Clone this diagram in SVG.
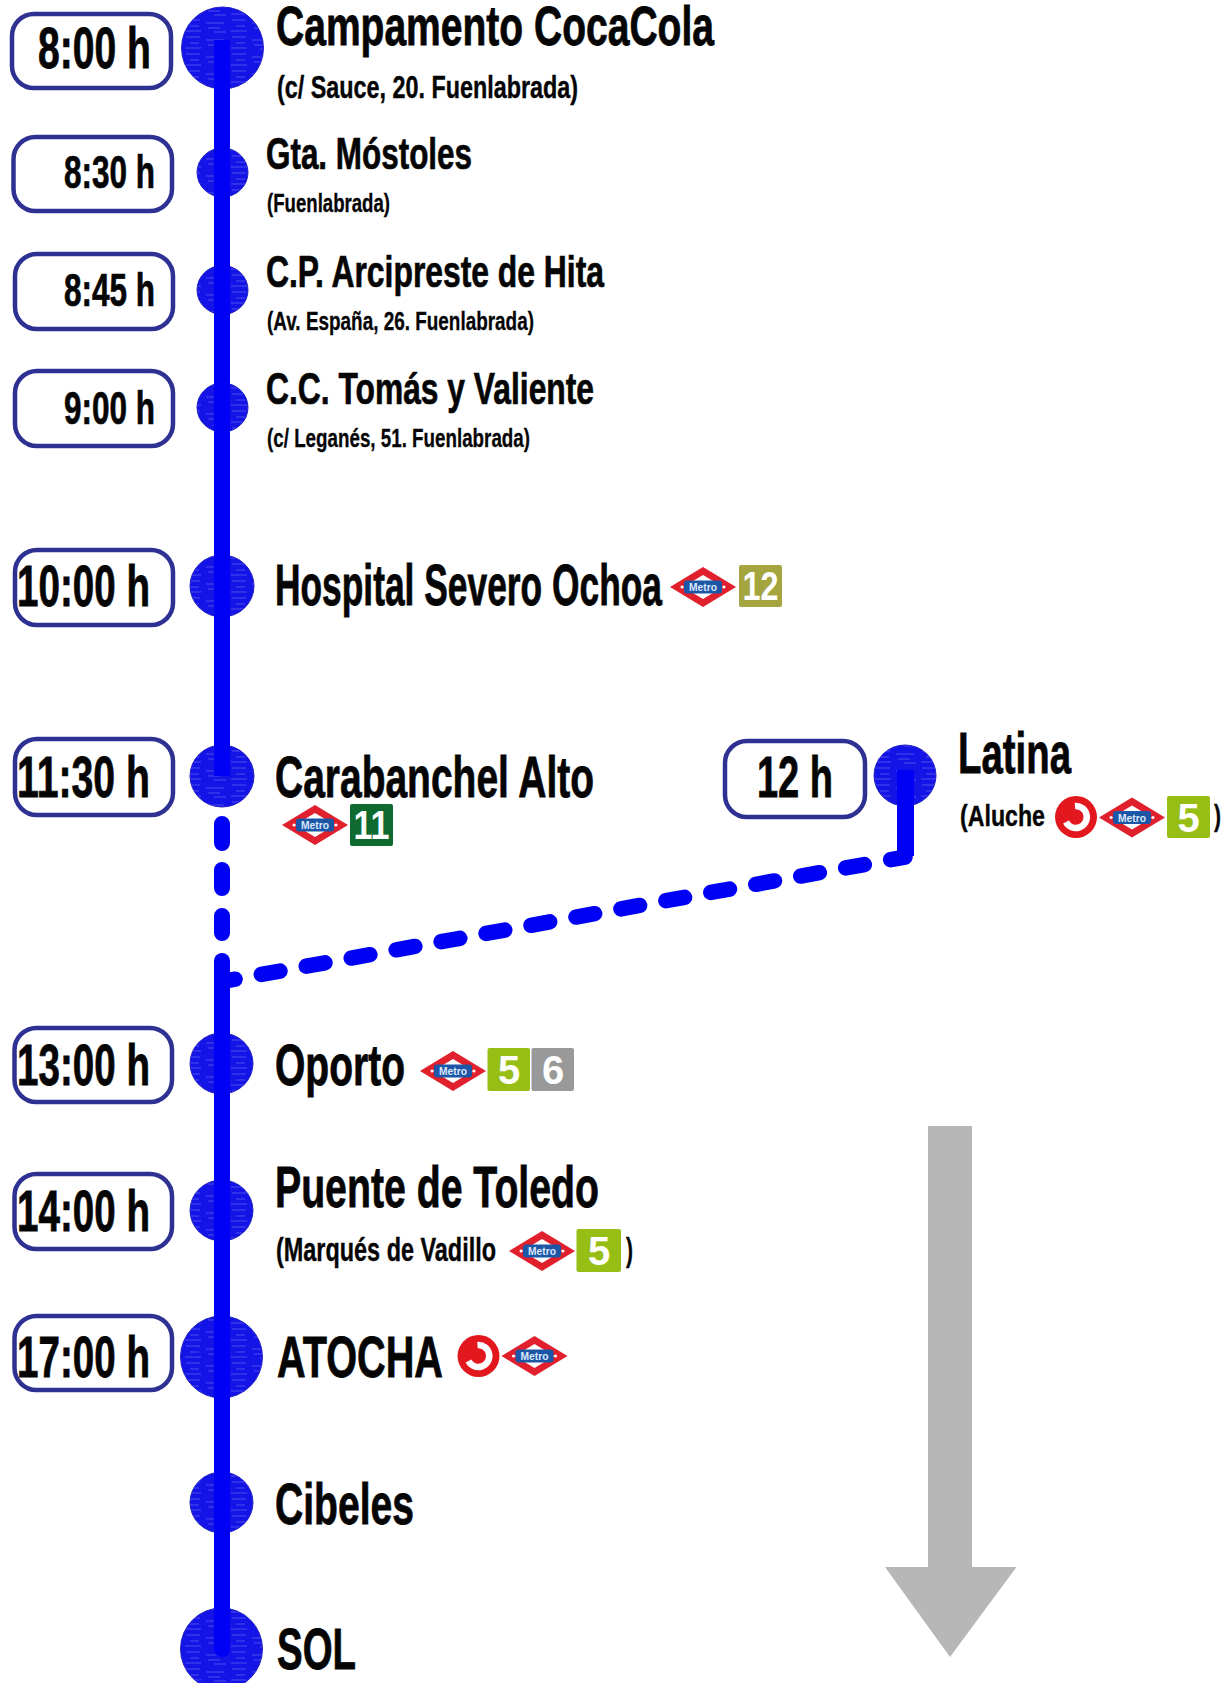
<svg xmlns="http://www.w3.org/2000/svg" width="1228" height="1683" viewBox="0 0 1228 1683">
<style>
text{font-family:"Liberation Sans Narrow","Liberation Sans",Arial,sans-serif;font-weight:bold;fill:#050505}
.box{fill:#fff;stroke:#2e3192;stroke-width:4.500}
.stop{fill:url(#tex);stroke:#2222c4;stroke-width:1}
.line{fill:none;stroke:#0000f5;stroke-width:16}
.t1{font-size:58px;stroke:#050505;stroke-width:.8}.t2{font-size:46px;stroke:#050505;stroke-width:.7}.t3{font-size:45px;stroke:#050505;stroke-width:.7}.big{font-size:58px;stroke:#050505;stroke-width:.8}
.s1{font-size:31px;stroke:#050505;stroke-width:.4}.s2{font-size:25px;stroke:#050505;stroke-width:.3}.s3{font-size:33px;stroke:#050505;stroke-width:.4}.s4{font-size:29px;stroke:#050505;stroke-width:.4}
.mt{font-family:"Liberation Sans",Arial,sans-serif;font-size:11px;fill:#dbe8fb;text-anchor:middle}
.num{font-family:"Liberation Sans",Arial,sans-serif;font-size:40px;fill:#fff;text-anchor:middle}
</style>
<defs>
<pattern id="tex" width="46" height="17" patternUnits="userSpaceOnUse">
<rect width="46" height="17" fill="#1414e6"/>
<path d="M2 3h14M22 6h18M6 9h9M24 11h12M1 14h16M30 15h12" stroke="#5a5af0" stroke-width=".8" fill="none"/>
</pattern>
<g id="metro">
<polygon points="33,0 0,-20 -33,0 0,20" fill="#e0202c"/>
<polygon points="20,0 0,-12 -20,0 0,12" fill="#fff"/>
<rect x="-19" y="-6.500" width="38" height="13" rx="3" fill="#1c56a6"/>
<circle cx="-21" cy="0" r="1.500" fill="#fff"/><circle cx="21" cy="0" r="1.500" fill="#fff"/>
</g>
<g id="renfe">
<circle r="21" fill="#e2181e"/>
<path d="M-1-11A11 11 0 1 1-10 5" fill="none" stroke="#fff" stroke-width="6.500"/>
</g>
</defs>
<rect width="1228" height="1683" fill="#fff"/>

<g id="arrow"><polygon points="928,1126 972,1126 972,1567 1016.500,1567 950,1657 885,1567 928,1567" fill="#b7b7b7"/></g>

<g id="node-campamento">
<rect class="box" x="12" y="14" width="159" height="74" rx="22"/>
<ellipse class="stop" cx="222.500" cy="48" rx="41" ry="41"/>
<text class="t1" x="38" y="68" textLength="113" lengthAdjust="spacingAndGlyphs">8:00 h</text>
<text class="big" style="font-size:56px" x="276" y="45" textLength="438" lengthAdjust="spacingAndGlyphs">Campamento CocaCola</text>
<text class="s1" x="277" y="98" textLength="301" lengthAdjust="spacingAndGlyphs">(c/ Sauce, 20. Fuenlabrada)</text>
</g>
<g id="node-mostoles">
<rect class="box" x="13.500" y="137" width="158.500" height="74" rx="22"/>
<ellipse class="stop" cx="222.500" cy="172.500" rx="25.500" ry="24.500"/>
<text class="t2" x="64" y="188" textLength="91" lengthAdjust="spacingAndGlyphs">8:30 h</text>
<text class="t3" x="266" y="169" textLength="206" lengthAdjust="spacingAndGlyphs">Gta. Móstoles</text>
<text class="s2" x="267" y="212" textLength="123" lengthAdjust="spacingAndGlyphs">(Fuenlabrada)</text>
</g>
<g id="node-arcipreste">
<rect class="box" x="15" y="254" width="158" height="75" rx="22"/>
<ellipse class="stop" cx="222.500" cy="290" rx="25.500" ry="24.500"/>
<text class="t2" x="64" y="306" textLength="91" lengthAdjust="spacingAndGlyphs">8:45 h</text>
<text class="t3" x="266" y="287" textLength="338" lengthAdjust="spacingAndGlyphs">C.P. Arcipreste de Hita</text>
<text class="s2" x="267" y="330" textLength="267" lengthAdjust="spacingAndGlyphs">(Av. España, 26. Fuenlabrada)</text>
</g>
<g id="node-tomas">
<rect class="box" x="15" y="371" width="158" height="75" rx="22"/>
<ellipse class="stop" cx="222.500" cy="407.500" rx="25.500" ry="24.500"/>
<text class="t2" x="64" y="424" textLength="91" lengthAdjust="spacingAndGlyphs">9:00 h</text>
<text class="t3" x="266" y="404" textLength="328" lengthAdjust="spacingAndGlyphs">C.C. Tomás y Valiente</text>
<text class="s2" x="267" y="447" textLength="263" lengthAdjust="spacingAndGlyphs">(c/ Leganés, 51. Fuenlabrada)</text>
</g>
<g id="node-hospital">
<rect class="box" x="15" y="550" width="158" height="75" rx="22"/>
<ellipse class="stop" cx="222" cy="586" rx="32" ry="31"/>
<text class="t1" x="17" y="606" textLength="133" lengthAdjust="spacingAndGlyphs">10:00 h</text>
<text class="big" x="275" y="605" textLength="387" lengthAdjust="spacingAndGlyphs">Hospital Severo Ochoa</text>
<use href="#metro" x="703" y="587"/><text class="mt" x="703" y="591" textLength="28" lengthAdjust="spacingAndGlyphs">Metro</text>
<rect x="739" y="565" width="43" height="42" rx="2" fill="#a5a53f"/>
<text class="num" x="760.500" y="600" textLength="36" lengthAdjust="spacingAndGlyphs">12</text>
</g>
<g id="node-carabanchel">
<rect class="box" x="15" y="739" width="158" height="76" rx="22"/>
<ellipse class="stop" cx="222" cy="776" rx="32" ry="31"/>
<text class="t1" x="17" y="797" textLength="133" lengthAdjust="spacingAndGlyphs">11:30 h</text>
<text class="big" x="275" y="797" textLength="319" lengthAdjust="spacingAndGlyphs">Carabanchel Alto</text>
<use href="#metro" x="315" y="825"/><text class="mt" x="315" y="829" textLength="28" lengthAdjust="spacingAndGlyphs">Metro</text>
<rect x="350" y="804" width="43" height="42" rx="2" fill="#0e6a2e"/>
<text class="num" x="371.500" y="839" textLength="36" lengthAdjust="spacingAndGlyphs">11</text>
</g>
<g id="node-latina">
<rect class="box" x="725" y="741" width="140" height="76" rx="22"/>
<ellipse class="stop" cx="905" cy="775.500" rx="31" ry="30.500"/>
<text class="t1" x="757" y="797" textLength="76" lengthAdjust="spacingAndGlyphs">12 h</text>
<text class="big" x="958" y="773" textLength="113" lengthAdjust="spacingAndGlyphs">Latina</text>
<text class="s4" x="960" y="826" textLength="85" lengthAdjust="spacingAndGlyphs">(Aluche</text>
<use href="#renfe" x="1076" y="817"/>
<use href="#metro" x="1132" y="817.500"/><text class="mt" x="1132" y="821.500" textLength="28" lengthAdjust="spacingAndGlyphs">Metro</text>
<rect x="1167" y="796" width="43" height="42" rx="2" fill="#96be14"/>
<text class="num" x="1188.500" y="831.500">5</text>
<text class="s4" x="1214" y="826" textLength="7" lengthAdjust="spacingAndGlyphs">)</text>
</g>
<g id="node-oporto">
<rect class="box" x="14.500" y="1028" width="157.500" height="74" rx="22"/>
<ellipse class="stop" cx="221.500" cy="1063.500" rx="31.500" ry="30.500"/>
<text class="t1" x="17" y="1085" textLength="133" lengthAdjust="spacingAndGlyphs">13:00 h</text>
<text class="big" x="275" y="1085" textLength="130" lengthAdjust="spacingAndGlyphs">Oporto</text>
<use href="#metro" x="453" y="1071"/><text class="mt" x="453" y="1075" textLength="28" lengthAdjust="spacingAndGlyphs">Metro</text>
<rect x="487.500" y="1048" width="42.500" height="43" rx="2" fill="#96be14"/>
<text class="num" x="509" y="1084">5</text>
<rect x="531.500" y="1048" width="42.500" height="43" rx="2" fill="#999"/>
<text class="num" x="553" y="1084">6</text>
</g>
<g id="node-toledo">
<rect class="box" x="14.500" y="1174" width="157.500" height="75" rx="22"/>
<ellipse class="stop" cx="221.500" cy="1210.500" rx="31.500" ry="30.500"/>
<text class="t1" x="17" y="1231" textLength="133" lengthAdjust="spacingAndGlyphs">14:00 h</text>
<text class="big" x="275" y="1207" textLength="324" lengthAdjust="spacingAndGlyphs">Puente de Toledo</text>
<text class="s3" x="276" y="1261" textLength="220" lengthAdjust="spacingAndGlyphs">(Marqués de Vadillo</text>
<use href="#metro" x="542" y="1251"/><text class="mt" x="542" y="1255" textLength="28" lengthAdjust="spacingAndGlyphs">Metro</text>
<rect x="576.500" y="1229" width="44.500" height="43" rx="2" fill="#96be14"/>
<text class="num" x="599" y="1265">5</text>
<text class="s3" x="626" y="1261" textLength="7" lengthAdjust="spacingAndGlyphs">)</text>
</g>
<g id="node-atocha">
<rect class="box" x="14.500" y="1316" width="157.500" height="74" rx="22"/>
<ellipse class="stop" cx="221.500" cy="1357" rx="41" ry="41"/>
<text class="t1" x="17" y="1377" textLength="133" lengthAdjust="spacingAndGlyphs">17:00 h</text>
<text class="big" x="277" y="1377" textLength="166" lengthAdjust="spacingAndGlyphs">ATOCHA</text>
<use href="#renfe" x="478.500" y="1356"/>
<use href="#metro" x="534.500" y="1356"/><text class="mt" x="534.500" y="1360" textLength="28" lengthAdjust="spacingAndGlyphs">Metro</text>
</g>
<g id="node-cibeles">
<ellipse class="stop" cx="221.500" cy="1502.500" rx="31.500" ry="30.500"/>
<text class="big" x="275" y="1524" textLength="139" lengthAdjust="spacingAndGlyphs">Cibeles</text>
</g>
<g id="node-sol">
<ellipse class="stop" cx="221.500" cy="1649" rx="41" ry="41"/>
<text class="big" x="277" y="1669" textLength="79" lengthAdjust="spacingAndGlyphs">SOL</text>
</g>

<g id="connectors">
<path class="line" d="M222 40V776"/>
<path class="line" stroke-linecap="round" d="M222 824V843M222 870V888M222 916V933"/>
<path class="line" stroke-linecap="round" d="M222 961V1649"/>
<path class="line" style="stroke-width:17" d="M905.500 770V856"/>
<path class="line" style="stroke-width:15.500" stroke-linecap="round" stroke-dasharray="19 26.690" stroke-dashoffset="4.370" d="M905 857.100L222 981.600"/>
</g>
</svg>
